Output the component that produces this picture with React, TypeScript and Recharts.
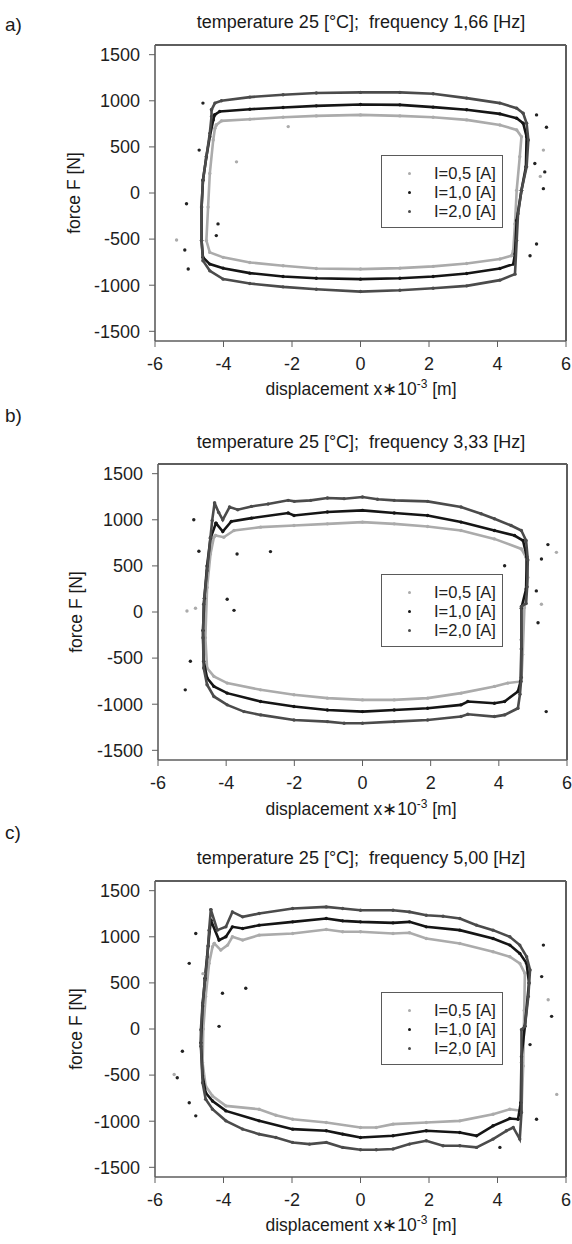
import React from 'react';
import { ScatterChart, Scatter, XAxis, YAxis, Legend, ReferenceLine } from 'recharts';

type Pair = [number, number];

const xTicks = [-6, -4, -2, 0, 2, 4, 6];
const yTicks = [-1500, -1000, -500, 0, 500, 1000, 1500];
const xDomain: Pair = [-6, 6];
const yDomain: Pair = [-1605, 1605];
const seriesNames = ['I=0,5 [A]', 'I=1,0 [A]', 'I=2,0 [A]'];
const seriesColors = ['#ababab', '#151515', '#4b4b4b'];
const panelLabels = ['a)', 'b)', 'c)'];
const panelTitles = [
  'temperature 25 [°C];  frequency 1,66 [Hz]',
  'temperature 25 [°C];  frequency 3,33 [Hz]',
  'temperature 25 [°C];  frequency 5,00 [Hz]',
];

// ---- panel a (1,66 Hz) ----
const a05: Pair[] = [
  [-4.21, 738], [-4.06, 782], [-3.23, 800], [-2.26, 822], [-1.29, 836], [0, 847], [1.15, 836], [2.12, 822],
  [3.1, 793], [4.07, 738], [4.56, 684], [4.7, 611], [4.65, 393], [4.56, 29], [4.51, -335], [4.46, -625], [4.41, -680],
  [4.07, -716], [3.1, -764], [2.12, -796], [1.15, -815], [0, -825], [-1.29, -818], [-2.26, -789], [-3.23, -753],
  [-4.01, -698], [-4.4, -644], [-4.5, -516], [-4.45, -153], [-4.4, 211], [-4.3, 575], [-4.25, 702], [-4.21, 738],
];
const a10: Pair[] = [
  [-4.26, 847], [-4.11, 884], [-3.23, 909], [-2.26, 927], [-1.29, 945], [0, 960], [1.15, 956], [2.12, 931],
  [3.1, 902], [4.07, 858], [4.56, 811], [4.75, 756], [4.85, 611], [4.83, 284], [4.7, 29], [4.56, -298], [4.51, -662],
  [4.46, -771], [4.07, -818], [3.1, -873], [2.12, -905], [1.15, -924], [0, -934], [-1.29, -924], [-2.26, -905],
  [-3.23, -869], [-4.01, -815], [-4.4, -771], [-4.6, -698], [-4.64, -516], [-4.64, -153], [-4.6, 138], [-4.5, 393],
  [-4.4, 611], [-4.3, 793], [-4.26, 847],
];
const a20: Pair[] = [
  [-4.35, 902], [-4.25, 975], [-4.06, 1000], [-3.23, 1040], [-2.26, 1065], [-1.29, 1084], [0, 1091], [1.15, 1091],
  [2.12, 1076], [3.1, 1029], [4.07, 975], [4.56, 920], [4.75, 865], [4.85, 756], [4.9, 575], [4.85, 284], [4.7, 29],
  [4.6, -225], [4.56, -516], [4.51, -880], [4.07, -945], [3.1, -1007], [2.12, -1033], [1.15, -1054], [0, -1069],
  [-1.29, -1044], [-2.26, -1018], [-3.23, -982], [-4.01, -934], [-4.4, -844], [-4.6, -734], [-4.64, -516],
  [-4.64, -153], [-4.6, 138], [-4.5, 393], [-4.4, 647], [-4.35, 829], [-4.35, 902],
];
const aOutDark: Pair[] = [
  [-4.6, 975], [-4.71, 465], [-5.08, -116], [-5.13, -618], [-5.03, -825], [-4.21, -462], [-4.16, -335],
  [5.14, 847], [5.43, 713], [5.34, 47], [5.09, 320], [4.95, -680], [5.14, -553], [5.38, 229],
];
const aOutLight: Pair[] = [[-5.37, -509], [5.34, 465], [-3.62, 338], [-2.11, 720], [5.25, 180]];

// ---- panel b (3,33 Hz) ----
const b05: Pair[] = [
  [-4.31, 829], [-4.07, 811], [-3.77, 884], [-2.99, 920], [-2.01, 938], [-1.03, 956], [0, 975], [0.93, 956],
  [1.91, 927], [2.89, 884], [3.87, 793], [4.66, 684], [4.8, 593], [4.85, 374], [4.75, 47], [4.7, -462], [4.66, -753],
  [4.26, -771], [3.87, -807], [2.89, -880], [1.91, -934], [0.93, -953], [0, -953], [-1.03, -934], [-2.01, -898],
  [-2.99, -844], [-3.97, -771], [-4.36, -698], [-4.56, -607], [-4.61, -280], [-4.56, 265], [-4.46, 629],
  [-4.36, 811], [-4.31, 829],
];
const b10: Pair[] = [
  [-4.3, 964], [-4.1, 873], [-3.85, 982], [-3.26, 1018], [-2.18, 1073], [-2.01, 1047], [-1.03, 1084], [0, 1102],
  [0.93, 1073], [1.91, 1047], [2.89, 975], [3.87, 884], [4.46, 829], [4.71, 775], [4.82, 600], [4.8, 250], [4.66, 40],
  [4.66, -400], [4.64, -750], [4.56, -862], [4.17, -971], [3.87, -989], [3.09, -971], [2.89, -1007], [1.91, -1044],
  [0.93, -1062], [0, -1080], [-1.03, -1062], [-2.01, -1025], [-2.99, -971], [-3.97, -880], [-4.36, -807],
  [-4.56, -716], [-4.66, -534], [-4.68, -200], [-4.64, 150], [-4.56, 500], [-4.46, 800], [-4.3, 964],
];
const b20: Pair[] = [
  [-4.34, 1182], [-4.22, 1080], [-4.1, 1000], [-3.9, 1138], [-3.66, 1109], [-3.26, 1145], [-2.77, 1171],
  [-2.18, 1211], [-2.0, 1200], [-1.52, 1211], [-1.03, 1236], [-0.54, 1229], [0, 1247], [0.44, 1222], [0.93, 1211],
  [1.91, 1200], [2.89, 1138], [3.48, 1065], [3.87, 1011], [4.36, 938], [4.66, 884], [4.8, 775], [4.85, 564],
  [4.83, 273], [4.8, 91], [4.66, 60], [4.66, -300], [4.66, -709], [4.62, -891], [4.56, -1044], [4.17, -1116],
  [3.87, -1134], [3.09, -1109], [2.89, -1134], [1.91, -1171], [0.93, -1189], [0, -1207], [-0.54, -1207],
  [-1.03, -1189], [-2.01, -1171], [-2.99, -1116], [-3.48, -1080], [-3.97, -1007], [-4.36, -916], [-4.56, -789],
  [-4.66, -607], [-4.68, -280], [-4.66, 84], [-4.56, 447], [-4.46, 811], [-4.41, 993], [-4.34, 1182],
];
const bOutDark: Pair[] = [
  [-4.95, 1000], [-4.8, 658], [-5.2, -844], [-5.05, -534], [-2.7, 655], [-3.68, 629], [-3.97, 138], [-3.77, 18],
  [5.44, 731], [5.25, 574], [5.39, -1080], [5.15, -116], [4.17, 502], [5.1, 229],
];
const bOutLight: Pair[] = [[-5.15, 11], [5.69, 647], [5.25, 84], [-4.9, 40]];

// ---- panel c (5,00 Hz) ----
const c05: Pair[] = [
  [-4.27, 928], [-4.08, 856], [-3.88, 910], [-3.74, 1000], [-3.44, 964], [-2.96, 1018], [-1.98, 1036],
  [-1.0, 1079], [-0.52, 1054], [0, 1054], [0.95, 1036], [1.43, 1043], [1.92, 982], [2.9, 928], [3.87, 838],
  [4.36, 784], [4.65, 712], [4.8, 604], [4.78, 200], [4.75, -400], [4.7, -888], [4.36, -870], [3.87, -924],
  [2.9, -996], [1.92, -1014], [0.95, -1032], [0.46, -1068], [0, -1068], [-1.0, -1014], [-1.98, -978],
  [-2.47, -935], [-2.96, -870], [-3.93, -834], [-4.32, -727], [-4.52, -619], [-4.61, -367], [-4.59, 0],
  [-4.52, 353], [-4.42, 712], [-4.32, 892], [-4.27, 928],
];
const c10: Pair[] = [
  [-4.37, 1180], [-4.13, 964], [-3.93, 1000], [-3.74, 1108], [-3.44, 1090], [-2.96, 1126], [-1.98, 1162],
  [-1.0, 1198], [-0.52, 1173], [0, 1162], [0.95, 1151], [1.43, 1162], [1.92, 1108], [2.9, 1072], [3.87, 982],
  [4.36, 910], [4.65, 820], [4.85, 712], [4.92, 500], [4.8, 30], [4.7, -300], [4.68, -800], [4.6, -978],
  [4.36, -971], [3.87, -1050], [3.39, -1158], [2.9, -1122], [1.92, -1104], [0.95, -1158], [0, -1176],
  [-0.52, -1140], [-1.0, -1104], [-1.98, -1086], [-2.96, -996], [-3.93, -888], [-4.32, -781], [-4.52, -691],
  [-4.61, -511], [-4.66, -150], [-4.61, 250], [-4.54, 550], [-4.45, 900], [-4.37, 1180],
];
const c20: Pair[] = [
  [-4.37, 1295], [-4.18, 1072], [-3.93, 1108], [-3.74, 1270], [-3.44, 1216], [-2.96, 1252], [-1.98, 1306],
  [-1.0, 1324], [-0.52, 1306], [0, 1288], [0.95, 1288], [1.43, 1270], [1.92, 1234], [2.41, 1223], [2.9, 1198],
  [3.39, 1126], [3.87, 1072], [4.36, 1000], [4.65, 910], [4.85, 784], [4.95, 640], [4.9, 353], [4.8, 29],
  [4.7, -7], [4.7, -367], [4.7, -906], [4.65, -1194], [4.46, -1068], [4.26, -1104], [3.87, -1194],
  [3.39, -1284], [2.9, -1266], [2.41, -1266], [1.92, -1212], [1.43, -1248], [0.95, -1302], [0.46, -1309],
  [0, -1309], [-0.52, -1284], [-1.0, -1230], [-1.49, -1248], [-1.98, -1230], [-2.47, -1176], [-2.96, -1140],
  [-3.44, -1086], [-3.93, -996], [-4.32, -870], [-4.52, -763], [-4.61, -583], [-4.66, -187], [-4.66, -7],
  [-4.61, 281], [-4.54, 532], [-4.47, 784], [-4.42, 1072], [-4.37, 1295],
];
const cOutDark: Pair[] = [
  [-4.81, 1036], [-5.0, 712], [-5.2, -241], [-5.35, -529], [-5.0, -799], [-4.81, -942], [-3.35, 442],
  [-4.03, 388], [-4.13, 29], [5.34, 910], [5.29, 568], [5.58, 137], [5.14, -978], [4.95, -169], [4.07, -1284],
];
const cOutLight: Pair[] = [[5.73, -709], [-5.44, -493], [5.48, 317], [-4.6, 600]];

const FONT = '"Liberation Sans", Arial, sans-serif';
const toPts = (arr: Pair[]) => arr.map(([x, y]) => ({ x, y }));

type PanelCfg = {
  idx: number;
  chartTop: number;
  plotLeft: number;
  plotRight: number;
  labelY: number;
  titleY: number;
  yLabelX: number;
  xLabelY: number;
  series: Pair[][];
  outDark: Pair[];
  outLight: Pair[];
  legendTop: number;
};

const W = 572;
const H = 400;
const PLOT_TOP = 45;
const PLOT_H = 296;
const AXIS_STROKE = '#5e5e5e';

const dot = (color: string, r: number) => (props: any) =>
  <circle cx={props.cx} cy={props.cy} r={r} fill={color} />;

const LegendBox = () => (
  <div
    style={{
      width: 122,
      height: 73,
      boxSizing: 'border-box',
      border: '1px solid #5a5a5a',
      background: '#fff',
      fontFamily: FONT,
      fontSize: 16.5,
      color: '#222',
      paddingTop: 8,
    }}
  >
    {seriesNames.map((n, i) => (
      <div key={n} style={{ display: 'flex', alignItems: 'center', height: 19, lineHeight: '19px' }}>
        <span
          style={{
            display: 'inline-block',
            width: 3,
            height: 3,
            borderRadius: '50%',
            background: seriesColors[i],
            marginLeft: 26,
            marginRight: 23,
          }}
        />
        <span>{n}</span>
      </div>
    ))}
  </div>
);

const Txt = ({ x, y, children, size, rotate, anchor }: any) => (
  <div
    style={{
      position: 'absolute',
      left: x,
      top: y,
      transform: `translate(${anchor === 'start' ? '0' : '-50%'}, -50%)${rotate ? ' rotate(-90deg)' : ''}`,
      whiteSpace: 'pre',
      fontFamily: FONT,
      fontSize: size,
      color: '#1a1a1a',
      lineHeight: 1,
    }}
  >
    {children}
  </div>
);

const Panel = ({ cfg }: { cfg: PanelCfg }) => {
  const { chartTop, plotLeft, plotRight } = cfg;
  const margin = {
    top: PLOT_TOP,
    right: W - plotRight,
    left: plotLeft - 60,
    bottom: H - PLOT_TOP - PLOT_H - 30,
  };
  const tickStyle = { fontFamily: FONT, fontSize: 18, fill: '#1e1e1e' };
  return (
    <div style={{ position: 'absolute', left: 0, top: chartTop, width: W, height: H }}>
      <ScatterChart width={W} height={H} margin={margin}>
        <XAxis
          type="number"
          dataKey="x"
          domain={xDomain}
          ticks={xTicks}
          interval={0}
          allowDataOverflow
          height={30}
          tickSize={6}
          tickMargin={10}
          tick={tickStyle}
          axisLine={{ stroke: AXIS_STROKE, strokeWidth: 1.6 }}
          tickLine={{ stroke: AXIS_STROKE }}
        />
        <YAxis
          type="number"
          dataKey="y"
          domain={yDomain}
          ticks={yTicks}
          interval={0}
          allowDataOverflow
          width={60}
          tickSize={6}
          tickMargin={9}
          tick={tickStyle}
          axisLine={{ stroke: AXIS_STROKE, strokeWidth: 1.6 }}
          tickLine={{ stroke: AXIS_STROKE }}
        />
        {/* top and right edges of the plot frame */}
        <ReferenceLine y={yDomain[1]} stroke={AXIS_STROKE} strokeWidth={2} ifOverflow="visible" />
        <ReferenceLine x={xDomain[1]} stroke={AXIS_STROKE} strokeWidth={2} ifOverflow="visible" />
        <Legend
          layout="horizontal"
          verticalAlign="middle"
          align="center"
          content={() => <LegendBox />}
          wrapperStyle={{ left: 381, top: cfg.legendTop, width: 122, height: 73 }}
        />
        {cfg.series.map((s, i) => (
          <Scatter
            key={seriesNames[i]}
            name={seriesNames[i]}
            data={toPts(s)}
            fill={seriesColors[i]}
            line={{ stroke: seriesColors[i], strokeWidth: 2.6 }}
            lineType="joint"
            shape={dot(seriesColors[i], 1.7)}
            isAnimationActive={false}
            legendType="none"
          />
        ))}
        <Scatter
          name="light points"
          data={toPts(cfg.outLight)}
          fill={seriesColors[0]}
          shape={dot(seriesColors[0], 1.7)}
          isAnimationActive={false}
          legendType="none"
        />
        <Scatter
          name="dark points"
          data={toPts(cfg.outDark)}
          fill={seriesColors[1]}
          shape={dot('#222', 1.7)}
          isAnimationActive={false}
          legendType="none"
        />
      </ScatterChart>
      <Txt x={5} y={cfg.labelY - chartTop} size={19} anchor="start">{panelLabels[cfg.idx]}</Txt>
      <Txt x={361} y={cfg.titleY - chartTop} size={18}>{panelTitles[cfg.idx]}</Txt>
      <Txt x={cfg.yLabelX} y={PLOT_TOP + PLOT_H / 2} size={17.5} rotate>force F [N]</Txt>
      <Txt x={361} y={cfg.xLabelY - chartTop} size={17.5}>
        displacement x∗10<sup style={{ fontSize: 12, verticalAlign: 'super', lineHeight: 0 }}>-3</sup> [m]
      </Txt>
    </div>
  );
};

const panels: PanelCfg[] = [
  {
    idx: 0, chartTop: 0, plotLeft: 155, plotRight: 566, labelY: 24, titleY: 22, yLabelX: 75, xLabelY: 390,
    series: [a05, a10, a20], outDark: aOutDark, outLight: aOutLight, legendTop: 155,
  },
  {
    idx: 1, chartTop: 419, plotLeft: 158, plotRight: 567, labelY: 415, titleY: 442, yLabelX: 77, xLabelY: 810,
    series: [b05, b10, b20], outDark: bOutDark, outLight: bOutLight, legendTop: 155,
  },
  {
    idx: 2, chartTop: 836, plotLeft: 155, plotRight: 566, labelY: 832, titleY: 858, yLabelX: 77, xLabelY: 1226,
    series: [c05, c10, c20], outDark: cOutDark, outLight: cOutLight, legendTop: 156,
  },
];

export default function App() {
  return (
    <div style={{ position: 'absolute', left: 0, top: 0, width: 572, height: 1244, background: '#fff', overflow: 'hidden' }}>
      {panels.map((p) => (
        <Panel key={p.idx} cfg={p} />
      ))}
    </div>
  );
}
